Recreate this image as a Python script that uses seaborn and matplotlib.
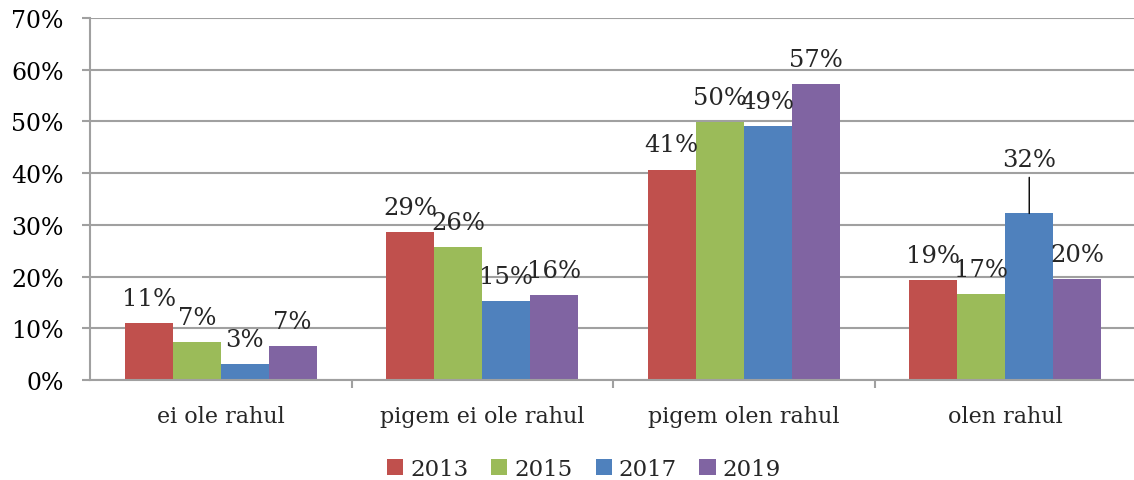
import matplotlib
matplotlib.use("Agg")
import matplotlib.pyplot as plt
import seaborn as sns
import pandas as pd
import numpy as np
from matplotlib.patches import Patch
from matplotlib.ticker import FixedLocator

categories = ["ei ole rahul", "pigem ei ole rahul", "pigem olen rahul", "olen rahul"]
years = ["2013", "2015", "2017", "2019"]
values_2013 = [11.1, 28.6, 40.7, 19.3]
values_2015 = [7.4, 25.8, 49.9, 16.6]
values_2017 = [3.0, 15.3, 49.2, 32.2]
values_2019 = [6.6, 16.4, 57.3, 19.6]
colors = ["#C0504D", "#9BBB59", "#4F81BD", "#8064A2"]
y_ticks = [0, 10, 20, 30, 40, 50, 60, 70]

series = [values_2013, values_2015, values_2017, values_2019]
rows = []
for yr, vals in zip(years, series):
    for c, v in zip(categories, vals):
        rows.append({"cat": c, "year": yr, "val": v})
df = pd.DataFrame(rows)

sns.set_style("white")
plt.rcParams["font.family"] = ["DejaVu Serif"]

fig = plt.figure(figsize=(11.34, 4.81), dpi=100)
ax = fig.add_axes([90 / 1134, 1 - 381 / 481, 1 - 90 / 1134, (381 - 19) / 481])

sns.barplot(data=df, x="cat", y="val", hue="year", palette=colors, width=0.734,
            gap=0, ax=ax, linewidth=0, saturation=1, legend=False, errorbar=None)

ax.set_ylim(0, 70)
ax.set_xlim(-0.5, 3.5 - 2 / 261.5)
ax.set_yticks(y_ticks)
ax.set_yticklabels([f"{t}%" for t in y_ticks], fontsize=17)
ax.yaxis.grid(True, color="#A0A0A0", linewidth=1.5)
ax.set_axisbelow(True)
ax.set_xlabel("")
ax.set_ylabel("")
for s in ["top", "right"]:
    ax.spines[s].set_visible(False)
ax.spines["left"].set_color("#A0A0A0")
ax.spines["left"].set_linewidth(1.5)
ax.spines["bottom"].set_color("#A0A0A0")
ax.spines["bottom"].set_linewidth(1.5)

ax.tick_params(axis="y", which="major", length=6, width=1.5, color="#A0A0A0",
               direction="out", pad=13, left=True, labelcolor="black")
ax.set_xticks(range(len(categories)))
ax.set_xticklabels(categories, fontsize=16)
ax.tick_params(axis="x", which="major", length=0, pad=18)
ax.xaxis.set_minor_locator(FixedLocator([0.5, 1.5, 2.5]))
ax.tick_params(axis="x", which="minor", length=6, width=1.5, color="#A0A0A0",
               direction="out", bottom=True)

# data labels
bars = [p for p in ax.patches if p.get_height() > 0]
bars = sorted(bars, key=lambda p: p.get_x())
for p in bars:
    h = p.get_height()
    xc = p.get_x() + p.get_width() / 2
    txt = f"{int(round(h))}%"
    if abs(h - values_2017[3]) < 1e-6:
        ax.annotate(txt, xy=(xc, h), xytext=(0, 34), textcoords="offset points",
                    ha="center", va="baseline", fontsize=17.5)
        ax.annotate("", xy=(xc, h), xytext=(0, 26), textcoords="offset points",
                    arrowprops=dict(arrowstyle="-", color="black", lw=1.0,
                                    shrinkA=0, shrinkB=0))
    else:
        ax.annotate(txt, xy=(xc, h), xytext=(0, 13), textcoords="offset points",
                    ha="center", va="baseline", fontsize=17.5)

handles = [Patch(facecolor=c, edgecolor="none", label=y) for c, y in zip(colors, years)]
fig.legend(handles=handles, loc="center", bbox_to_anchor=(584 / 1134, 1 - 470 / 481),
           ncol=4, frameon=False, fontsize=16.5, handlelength=0.7, handleheight=0.7,
           handletextpad=0.3, columnspacing=1.0)

fig.savefig("out.png", dpi=100)
